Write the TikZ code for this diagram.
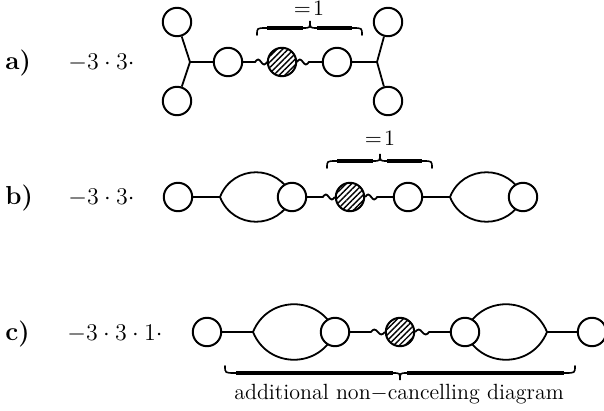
\documentclass[tikz,border=0pt]{standalone}
\usepackage{tikz}
\usetikzlibrary{patterns.meta,calc}
\begin{document}
\begin{tikzpicture}[x=0.5pt,y=-0.5pt,
  ring/.style={circle,draw,fill=white,line width=1pt,minimum size=14.2pt,inner sep=0pt},
  hatch/.style={circle,draw,line width=1pt,minimum size=14.2pt,inner sep=0pt,
    pattern={Lines[angle=45,distance=2pt,line width=0.7pt]}},
  wire/.style={line width=0.9pt},
  lbl/.style={anchor=base west,inner sep=0pt,font=\fontsize{13}{15}\selectfont},
  small/.style={anchor=base,inner sep=0pt,font=\fontsize{10.5}{12}\selectfont},
  bracethin/.style={line width=0.8pt,line cap=round},
  bracebar/.style={line width=1.9pt},
]
\useasboundingbox (0,0) rectangle (604,411);

% ---------- labels ----------
\node[lbl] (la) at (5,70) {\textbf{a)}};
\node[lbl] (ma) at (68,70) {$-3\cdot 3\cdot$};
\node[lbl] (lb) at (5,205) {\textbf{b)}};
\node[lbl] (mb) at (68,205) {$-3\cdot 3\cdot$};
\node[lbl] (lc) at (5,340) {\textbf{c)}};
\node[lbl] (mc) at (67,340) {$-3\cdot 3\cdot 1\cdot$};

% ---------- row a ----------
\coordinate (aJL) at (190,62);
\coordinate (aJR) at (377,62);
\node[ring] (aUL) at (177,22) {};
\node[ring] (aLL) at (177,101) {};
\node[ring] (aC1) at (228,62) {};
\node[hatch] (aH) at (282,62) {};
\node[ring] (aC2) at (337,62) {};
\node[ring] (aUR) at (388,22) {};
\node[ring] (aLR) at (388,101) {};
\draw[wire] (aUL) -- (aJL) -- (aLL);
\draw[wire] (aJL) -- (aC1);
\draw[wire] (aC1.east) -- ($(aH.west)+(-12,0)$) sin ++(3,-2.5) cos ++(3,2.5) sin ++(3,2.5) cos ++(3,-2.5) -- (aH.west);
\draw[wire] (aH.east) sin ++(3,-2.5) cos ++(3,2.5) sin ++(3,2.5) cos ++(3,-2.5) -- (aC2.west);
\draw[wire] (aC2) -- (aJR);
\draw[wire] (aUR) -- (aJR) -- (aLR);
% brace a
\draw[bracethin] (257,35) .. controls (257,28) .. (266,28) -- (303,28) .. controls (310,28) .. (310,21)
   .. controls (310,28) .. (317,28) -- (353,28) .. controls (362,28) .. (362,35);
\draw[bracebar] (267,28) -- (303,28) (317,28) -- (352,28);
\node[small] (ea) at (309,16) {$=\!1$};

% ---------- row b ----------
\coordinate (bL1) at (220,197);
\coordinate (bT1) at (292,197);
\coordinate (bL2) at (450,197);
\coordinate (bT2) at (523,197);
\draw[wire] (bL1) .. controls +(13,-33) and +(-13,-33) .. (bT1) .. controls +(-13,33) and +(13,33) .. (bL1);
\draw[wire] (bL2) .. controls +(13,-33) and +(-13,-33) .. (bT2) .. controls +(-13,33) and +(13,33) .. (bL2);
\node[ring] (bC1) at (178,197) {};
\node[ring] (bC2) at (bT1) {};
\node[hatch] (bH) at (350,197) {};
\node[ring] (bC3) at (408,197) {};
\node[ring] (bC4) at (bT2) {};
\draw[wire] (bC1) -- (bL1);
\draw[wire] (bC2.east) -- ($(bH.west)+(-12,0)$) sin ++(3,-2.5) cos ++(3,2.5) sin ++(3,2.5) cos ++(3,-2.5) -- (bH.west);
\draw[wire] (bH.east) sin ++(3,-2.5) cos ++(3,2.5) sin ++(3,2.5) cos ++(3,-2.5) -- (bC3.west);
\draw[wire] (bC3) -- (bL2);
% brace b
\draw[bracethin] (327,168) .. controls (327,161) .. (336,161) -- (373,161) .. controls (380,161) .. (380,154)
   .. controls (380,161) .. (387,161) -- (423,161) .. controls (432,161) .. (432,168);
\draw[bracebar] (337,161) -- (373,161) (387,161) -- (422,161);
\node[small] (eb) at (380,146) {$=\!1$};

% ---------- row c ----------
\coordinate (cL1) at (253,332);
\coordinate (cT1) at (335,332);
\coordinate (cT2) at (465,332);
\coordinate (cR2) at (547,332);
\draw[wire] (cL1) .. controls +(15,-37) and +(-15,-37) .. (cT1) .. controls +(-15,37) and +(15,37) .. (cL1);
\draw[wire] (cT2) .. controls +(15,-37) and +(-15,-37) .. (cR2) .. controls +(-15,37) and +(15,37) .. (cT2);
\node[ring] (cC1) at (207,332) {};
\node[ring] (cC2) at (cT1) {};
\node[hatch] (cH) at (400,332) {};
\node[ring] (cC3) at (cT2) {};
\node[ring] (cC4) at (592,332) {};
\draw[wire] (cC1) -- (cL1);
\draw[wire] (cC2.east) -- ($(cH.west)+(-14,0)$) sin ++(3.5,-2.5) cos ++(3.5,2.5) sin ++(3.5,2.5) cos ++(3.5,-2.5) -- (cH.west);
\draw[wire] (cH.east) sin ++(3.5,-2.5) cos ++(3.5,2.5) sin ++(3.5,2.5) cos ++(3.5,-2.5) -- (cC3.west);
\draw[wire] (cR2) -- (cC4);
% brace c
\draw[bracethin] (225,366) .. controls (225,373) .. (235,373) -- (393,373) .. controls (400,373) .. (400,380)
   .. controls (400,373) .. (407,373) -- (565,373) .. controls (575,373) .. (575,366);
\draw[bracebar] (236,373) -- (393,373) (407,373) -- (564,373);
\node[small,font=\fontsize{11}{13}\selectfont] (tc) at (399,399) {additional non$-$cancelling diagram};
\end{tikzpicture}
\end{document}
